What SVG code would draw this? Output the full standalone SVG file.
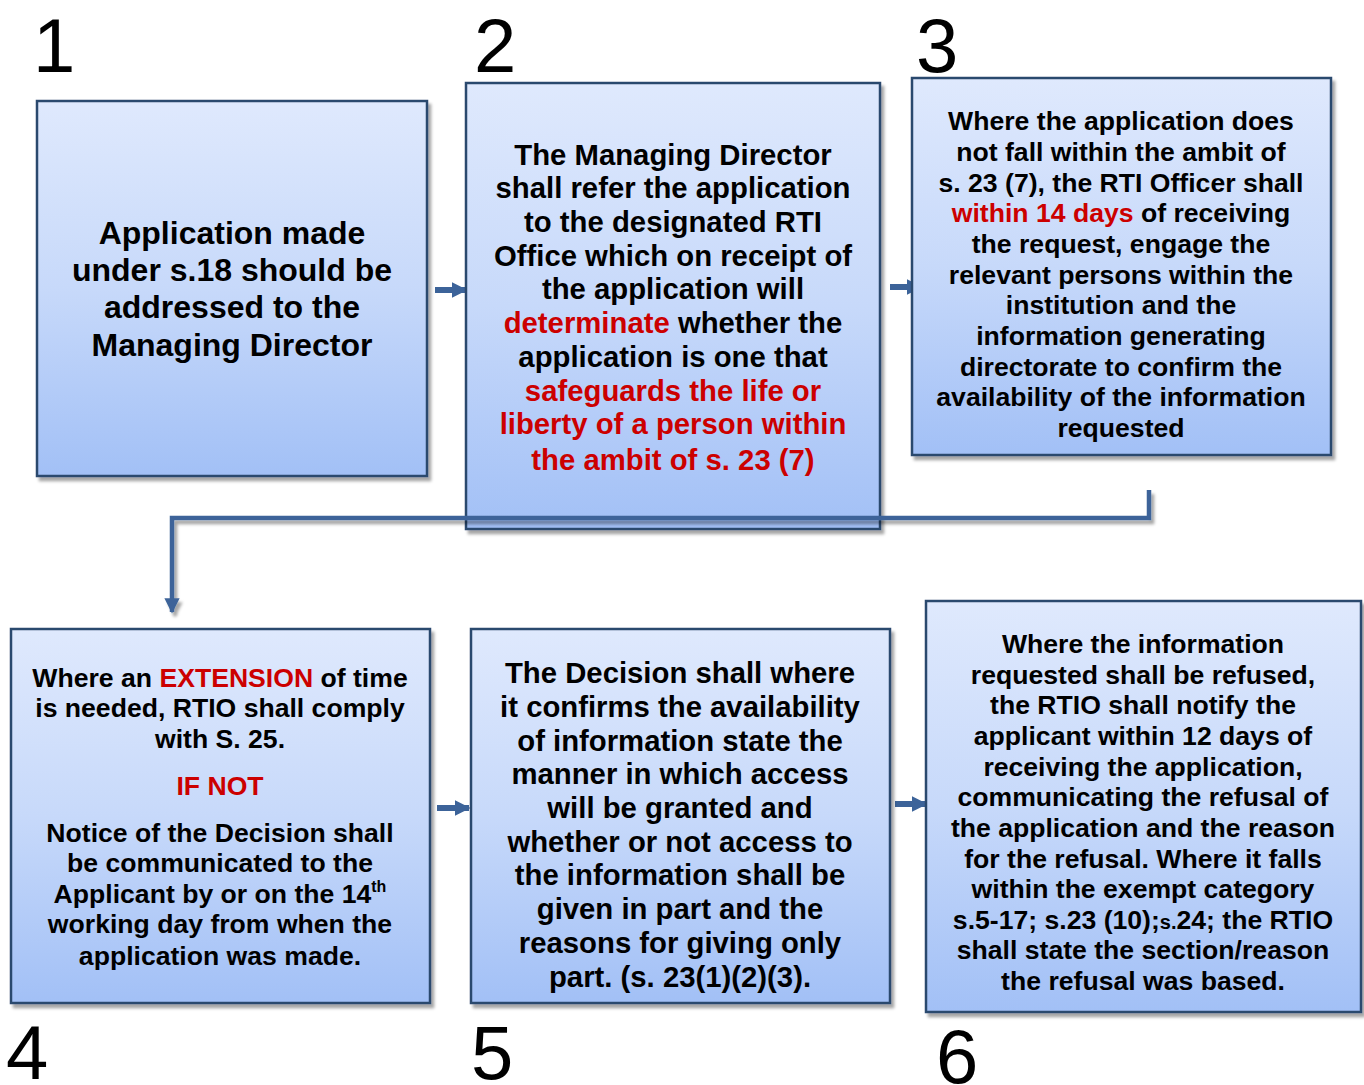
<svg xmlns="http://www.w3.org/2000/svg" width="1364" height="1085" viewBox="0 0 1364 1085">
<defs>
<linearGradient id="bg" x1="0" y1="0" x2="0" y2="1">
<stop offset="0" stop-color="#dfe9fd"/>
<stop offset="0.5" stop-color="#c7d9fa"/>
<stop offset="1" stop-color="#a2c0f6"/>
</linearGradient>
<filter id="sh" x="-5%" y="-5%" width="115%" height="115%">
<feDropShadow dx="3" dy="4" stdDeviation="1.5" flood-color="#000" flood-opacity="0.35"/>
</filter>
<marker id="ah" viewBox="0 0 10 10" refX="9" refY="5" markerWidth="2.6" markerHeight="3" orient="auto" markerUnits="strokeWidth">
<path d="M0,0 L10,5 L0,10 Z" fill="#3c6399"/>
</marker>
<marker id="ah2" viewBox="0 0 10 10" refX="9" refY="5" markerWidth="3.4" markerHeight="3.4" orient="auto" markerUnits="strokeWidth">
<path d="M0,0 L10,5 L0,10 Z" fill="#3c6399"/>
</marker>
</defs>
<style>
.box{fill:url(#bg);stroke:#2c4a6e;stroke-width:2.5;filter:url(#sh)}
.t text{font-family:"Liberation Sans",Arial,sans-serif;font-weight:bold;fill:#000;text-anchor:middle}
.t .r,.r{fill:#cc0000}
.f32 text{font-size:32px}
.f29 text{font-size:29.3px}
.f26 text{font-size:26.6px}
.num{font-family:"Liberation Sans",Arial,sans-serif;font-size:76px;fill:#000}
.c{fill:none;stroke:#3c6399;stroke-width:6}
.big{fill:none;stroke:#3c6399;stroke-width:4.5;filter:url(#sh)}
</style>

<g id="numbers">
<text class="num" x="33" y="72">1</text>
<text class="num" x="474" y="72">2</text>
<text class="num" x="916" y="72">3</text>
<text class="num" x="6" y="1079">4</text>
<text class="num" x="471" y="1079">5</text>
<text class="num" x="936" y="1083">6</text>
</g>

<g id="connectors">
<line class="c" x1="435" y1="290" x2="466" y2="290" marker-end="url(#ah)"/>
<line class="c" x1="890" y1="287" x2="921" y2="287" marker-end="url(#ah)"/>
<line class="c" x1="437" y1="808" x2="469" y2="808" marker-end="url(#ah)"/>
<line class="c" x1="895" y1="804" x2="926" y2="804" marker-end="url(#ah)"/>
</g>

<g id="node1">
<rect class="box" x="37" y="101" width="390" height="375"/>
<g class="t f32">
<text x="232" y="244">Application made</text>
<text x="232" y="281">under s.18 should be</text>
<text x="232" y="318">addressed to the</text>
<text x="232" y="356">Managing Director</text>
</g>
</g>

<g id="node2">
<rect class="box" x="466" y="83" width="414" height="446"/>
<g class="t f29">
<text x="673" y="165">The Managing Director</text>
<text x="673" y="198">shall refer the application</text>
<text x="673" y="232">to the designated RTI</text>
<text x="673" y="266">Office which on receipt of</text>
<text x="673" y="299">the application will</text>
<text x="673" y="333"><tspan class="r">determinate</tspan> whether the</text>
<text x="673" y="367">application is one that</text>
<text x="673" y="401" class="r">safeguards the life or</text>
<text x="673" y="434" class="r">liberty of a person within</text>
<text x="673" y="470" class="r">the ambit of s. 23 (7)</text>
</g>
</g>

<g id="node3">
<rect class="box" x="912" y="78" width="419" height="377"/>
<g class="t f26">
<text x="1121" y="130">Where the application does</text>
<text x="1121" y="161">not fall within the ambit of</text>
<text x="1121" y="192">s. 23 (7), the RTI Officer shall</text>
<text x="1121" y="222"><tspan class="r">within 14 days</tspan> of receiving</text>
<text x="1121" y="253">the request, engage the</text>
<text x="1121" y="284">relevant persons within the</text>
<text x="1121" y="314">institution and the</text>
<text x="1121" y="345">information generating</text>
<text x="1121" y="376">directorate to confirm the</text>
<text x="1121" y="406">availability of the information</text>
<text x="1121" y="437">requested</text>
</g>
</g>

<g id="connector-3-4">
<polyline class="big" points="1149,490 1149,518 172,518 172,612" marker-end="url(#ah2)"/>
</g>

<g id="node4">
<rect class="box" x="11" y="629" width="419" height="374"/>
<g class="t f26">
<text x="220" y="687">Where an <tspan class="r">EXTENSION</tspan> of time</text>
<text x="220" y="717">is needed, RTIO shall comply</text>
<text x="220" y="748">with S. 25.</text>
<text x="220" y="795" class="r">IF NOT</text>
<text x="220" y="842">Notice of the Decision shall</text>
<text x="220" y="872">be communicated to the</text>
<text x="220" y="903">Applicant by or on the 14<tspan font-size="16" dy="-11">th</tspan></text>
<text x="220" y="933">working day from when the</text>
<text x="220" y="965">application was made.</text>
</g>
</g>

<g id="node5">
<rect class="box" x="471" y="629" width="419" height="374"/>
<g class="t f29">
<text x="680" y="683">The Decision shall where</text>
<text x="680" y="717">it confirms the availability</text>
<text x="680" y="751">of information state the</text>
<text x="680" y="784">manner in which access</text>
<text x="680" y="818">will be granted and</text>
<text x="680" y="852">whether or not access to</text>
<text x="680" y="885">the information shall be</text>
<text x="680" y="919">given in part and the</text>
<text x="680" y="953">reasons for giving only</text>
<text x="680" y="987">part. (s. 23(1)(2)(3).</text>
</g>
</g>

<g id="node6">
<rect class="box" x="926" y="601" width="435" height="411"/>
<g class="t f26">
<text x="1143" y="653">Where the information</text>
<text x="1143" y="684">requested shall be refused,</text>
<text x="1143" y="714">the RTIO shall notify the</text>
<text x="1143" y="745">applicant within 12 days of</text>
<text x="1143" y="776">receiving the application,</text>
<text x="1143" y="806">communicating the refusal of</text>
<text x="1143" y="837">the application and the reason</text>
<text x="1143" y="868">for the refusal. Where it falls</text>
<text x="1143" y="898">within the exempt category</text>
<text x="1143" y="929">s.5-17; s.23 (10);<tspan font-size="20">s.</tspan>24; the RTIO</text>
<text x="1143" y="959">shall state the section/reason</text>
<text x="1143" y="990">the refusal was based.</text>
</g>
</g>
</svg>
